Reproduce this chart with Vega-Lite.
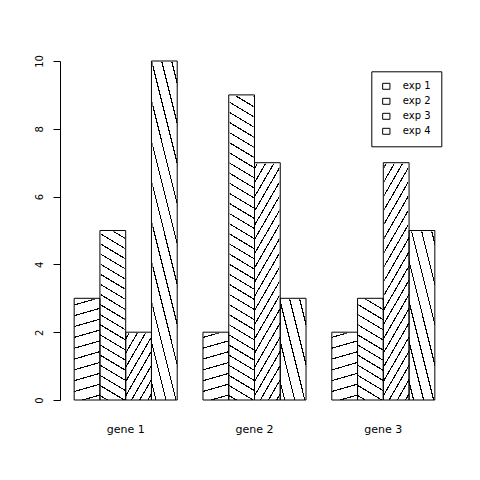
{
  "$schema": "https://vega.github.io/schema/vega-lite/v6.json",
  "width": 389,
  "height": 339,
  "autosize": {"type": "none"},
  "padding": {"left": 60, "top": 61, "right": 31, "bottom": 80},
  "background": "white",
  "config": {"view": {"stroke": null}, "font": "DejaVu Sans"},
  "data": {
    "values": [
      {"gene": "gene 1", "exp": "exp 1", "value": 3},
      {"gene": "gene 1", "exp": "exp 2", "value": 5},
      {"gene": "gene 1", "exp": "exp 3", "value": 2},
      {"gene": "gene 1", "exp": "exp 4", "value": 10},
      {"gene": "gene 2", "exp": "exp 1", "value": 2},
      {"gene": "gene 2", "exp": "exp 2", "value": 9},
      {"gene": "gene 2", "exp": "exp 3", "value": 7},
      {"gene": "gene 2", "exp": "exp 4", "value": 3},
      {"gene": "gene 3", "exp": "exp 1", "value": 2},
      {"gene": "gene 3", "exp": "exp 2", "value": 3},
      {"gene": "gene 3", "exp": "exp 3", "value": 7},
      {"gene": "gene 3", "exp": "exp 4", "value": 5}
    ]
  },
  "encoding": {
    "x": {
      "field": "gene", "type": "nominal", "title": null,
      "scale": {"domain": ["gene 1", "gene 2", "gene 3"], "paddingInner": 0.2, "paddingOuter": 0.11},
      "axis": {"labelAngle": 0, "domain": false, "ticks": false, "tickSize": 0, "labelPadding": 32, "labelBaseline": "alphabetic", "labelFont": "DejaVu Sans", "labelFontSize": 11, "labelColor": "black"}
    },
    "xOffset": {
      "field": "exp", "type": "nominal",
      "scale": {"domain": ["exp 1", "exp 2", "exp 3", "exp 4"], "paddingInner": 0, "paddingOuter": 0}
    }
  },
  "layer": [
    {
      "transform": [{"filter": "datum.exp == 'exp 1'"}],
      "mark": {"type": "bar", "fill": {"gradient": "linear", "x1": 0, "y1": 0, "x2": 0.02225, "y2": 1.02131, "stops": [
        {"offset":0.015,"color":"#fff"},{"offset":0.015,"color":"#000"},{"offset":0.0183,"color":"#000"},{"offset":0.0183,"color":"#fff"},
        {"offset":0.04625,"color":"#fff"},{"offset":0.04625,"color":"#000"},{"offset":0.04955,"color":"#000"},{"offset":0.04955,"color":"#fff"},
        {"offset":0.0775,"color":"#fff"},{"offset":0.0775,"color":"#000"},{"offset":0.0808,"color":"#000"},{"offset":0.0808,"color":"#fff"},
        {"offset":0.10875,"color":"#fff"},{"offset":0.10875,"color":"#000"},{"offset":0.11205,"color":"#000"},{"offset":0.11205,"color":"#fff"},
        {"offset":0.14,"color":"#fff"},{"offset":0.14,"color":"#000"},{"offset":0.1433,"color":"#000"},{"offset":0.1433,"color":"#fff"},
        {"offset":0.17125,"color":"#fff"},{"offset":0.17125,"color":"#000"},{"offset":0.17455,"color":"#000"},{"offset":0.17455,"color":"#fff"},
        {"offset":0.2025,"color":"#fff"},{"offset":0.2025,"color":"#000"},{"offset":0.2058,"color":"#000"},{"offset":0.2058,"color":"#fff"},
        {"offset":0.23375,"color":"#fff"},{"offset":0.23375,"color":"#000"},{"offset":0.23705,"color":"#000"},{"offset":0.23705,"color":"#fff"},
        {"offset":0.265,"color":"#fff"},{"offset":0.265,"color":"#000"},{"offset":0.2683,"color":"#000"},{"offset":0.2683,"color":"#fff"},
        {"offset":0.29625,"color":"#fff"},{"offset":0.29625,"color":"#000"},{"offset":0.29955,"color":"#000"},{"offset":0.29955,"color":"#fff"},
        {"offset":0.3275,"color":"#fff"},{"offset":0.3275,"color":"#000"},{"offset":0.3308,"color":"#000"},{"offset":0.3308,"color":"#fff"},
        {"offset":0.35875,"color":"#fff"},{"offset":0.35875,"color":"#000"},{"offset":0.36205,"color":"#000"},{"offset":0.36205,"color":"#fff"},
        {"offset":0.39,"color":"#fff"},{"offset":0.39,"color":"#000"},{"offset":0.3933,"color":"#000"},{"offset":0.3933,"color":"#fff"},
        {"offset":0.42125,"color":"#fff"},{"offset":0.42125,"color":"#000"},{"offset":0.42455,"color":"#000"},{"offset":0.42455,"color":"#fff"},
        {"offset":0.4525,"color":"#fff"},{"offset":0.4525,"color":"#000"},{"offset":0.4558,"color":"#000"},{"offset":0.4558,"color":"#fff"},
        {"offset":0.48375,"color":"#fff"},{"offset":0.48375,"color":"#000"},{"offset":0.48705,"color":"#000"},{"offset":0.48705,"color":"#fff"},
        {"offset":0.515,"color":"#fff"},{"offset":0.515,"color":"#000"},{"offset":0.5183,"color":"#000"},{"offset":0.5183,"color":"#fff"},
        {"offset":0.54625,"color":"#fff"},{"offset":0.54625,"color":"#000"},{"offset":0.54955,"color":"#000"},{"offset":0.54955,"color":"#fff"},
        {"offset":0.5775,"color":"#fff"},{"offset":0.5775,"color":"#000"},{"offset":0.5808,"color":"#000"},{"offset":0.5808,"color":"#fff"},
        {"offset":0.60875,"color":"#fff"},{"offset":0.60875,"color":"#000"},{"offset":0.61205,"color":"#000"},{"offset":0.61205,"color":"#fff"},
        {"offset":0.64,"color":"#fff"},{"offset":0.64,"color":"#000"},{"offset":0.6433,"color":"#000"},{"offset":0.6433,"color":"#fff"},
        {"offset":0.67125,"color":"#fff"},{"offset":0.67125,"color":"#000"},{"offset":0.67455,"color":"#000"},{"offset":0.67455,"color":"#fff"},
        {"offset":0.7025,"color":"#fff"},{"offset":0.7025,"color":"#000"},{"offset":0.7058,"color":"#000"},{"offset":0.7058,"color":"#fff"},
        {"offset":0.73375,"color":"#fff"},{"offset":0.73375,"color":"#000"},{"offset":0.73705,"color":"#000"},{"offset":0.73705,"color":"#fff"},
        {"offset":0.765,"color":"#fff"},{"offset":0.765,"color":"#000"},{"offset":0.7683,"color":"#000"},{"offset":0.7683,"color":"#fff"},
        {"offset":0.79625,"color":"#fff"},{"offset":0.79625,"color":"#000"},{"offset":0.79955,"color":"#000"},{"offset":0.79955,"color":"#fff"},
        {"offset":0.8275,"color":"#fff"},{"offset":0.8275,"color":"#000"},{"offset":0.8308,"color":"#000"},{"offset":0.8308,"color":"#fff"},
        {"offset":0.85875,"color":"#fff"},{"offset":0.85875,"color":"#000"},{"offset":0.86205,"color":"#000"},{"offset":0.86205,"color":"#fff"},
        {"offset":0.89,"color":"#fff"},{"offset":0.89,"color":"#000"},{"offset":0.8933,"color":"#000"},{"offset":0.8933,"color":"#fff"},
        {"offset":0.92125,"color":"#fff"},{"offset":0.92125,"color":"#000"},{"offset":0.92455,"color":"#000"},{"offset":0.92455,"color":"#fff"},
        {"offset":0.9525,"color":"#fff"},{"offset":0.9525,"color":"#000"},{"offset":0.9558,"color":"#000"},{"offset":0.9558,"color":"#fff"},
        {"offset":0.98375,"color":"#fff"},{"offset":0.98375,"color":"#000"},{"offset":0.98705,"color":"#000"},{"offset":0.98705,"color":"#fff"}
      ]}},
      "encoding": {
        "y": {"datum": 10, "type": "quantitative", "title": null, "scale": {"domain": [0, 10], "nice": false},
          "axis": {"tickCount": 5, "tickSize": 7, "domainColor": "black", "tickColor": "black", "grid": false, "labelAngle": 270, "labelAlign": "center", "labelBaseline": "alphabetic", "labelPadding": 11, "labelFont": "DejaVu Sans", "labelFontSize": 10, "labelColor": "black"}},
        "y2": {"datum": 0}
      }
    },
    {
      "transform": [{"filter": "datum.exp == 'exp 2'"}],
      "mark": {"type": "bar", "fill": {"gradient": "linear", "x1": 1, "y1": 0, "x2": 0.95237, "y2": 1.04346, "stops": [
        {"offset":0.014,"color":"#fff"},{"offset":0.014,"color":"#000"},{"offset":0.0176,"color":"#000"},{"offset":0.0176,"color":"#fff"},
        {"offset":0.0426,"color":"#fff"},{"offset":0.0426,"color":"#000"},{"offset":0.0462,"color":"#000"},{"offset":0.0462,"color":"#fff"},
        {"offset":0.0711,"color":"#fff"},{"offset":0.0711,"color":"#000"},{"offset":0.0747,"color":"#000"},{"offset":0.0747,"color":"#fff"},
        {"offset":0.0997,"color":"#fff"},{"offset":0.0997,"color":"#000"},{"offset":0.1033,"color":"#000"},{"offset":0.1033,"color":"#fff"},
        {"offset":0.1283,"color":"#fff"},{"offset":0.1283,"color":"#000"},{"offset":0.1319,"color":"#000"},{"offset":0.1319,"color":"#fff"},
        {"offset":0.1569,"color":"#fff"},{"offset":0.1569,"color":"#000"},{"offset":0.1605,"color":"#000"},{"offset":0.1605,"color":"#fff"},
        {"offset":0.1854,"color":"#fff"},{"offset":0.1854,"color":"#000"},{"offset":0.189,"color":"#000"},{"offset":0.189,"color":"#fff"},
        {"offset":0.214,"color":"#fff"},{"offset":0.214,"color":"#000"},{"offset":0.2176,"color":"#000"},{"offset":0.2176,"color":"#fff"},
        {"offset":0.2426,"color":"#fff"},{"offset":0.2426,"color":"#000"},{"offset":0.2462,"color":"#000"},{"offset":0.2462,"color":"#fff"},
        {"offset":0.2711,"color":"#fff"},{"offset":0.2711,"color":"#000"},{"offset":0.2747,"color":"#000"},{"offset":0.2747,"color":"#fff"},
        {"offset":0.2997,"color":"#fff"},{"offset":0.2997,"color":"#000"},{"offset":0.3033,"color":"#000"},{"offset":0.3033,"color":"#fff"},
        {"offset":0.3283,"color":"#fff"},{"offset":0.3283,"color":"#000"},{"offset":0.3319,"color":"#000"},{"offset":0.3319,"color":"#fff"},
        {"offset":0.3569,"color":"#fff"},{"offset":0.3569,"color":"#000"},{"offset":0.3605,"color":"#000"},{"offset":0.3605,"color":"#fff"},
        {"offset":0.3854,"color":"#fff"},{"offset":0.3854,"color":"#000"},{"offset":0.389,"color":"#000"},{"offset":0.389,"color":"#fff"},
        {"offset":0.414,"color":"#fff"},{"offset":0.414,"color":"#000"},{"offset":0.4176,"color":"#000"},{"offset":0.4176,"color":"#fff"},
        {"offset":0.4426,"color":"#fff"},{"offset":0.4426,"color":"#000"},{"offset":0.4462,"color":"#000"},{"offset":0.4462,"color":"#fff"},
        {"offset":0.4711,"color":"#fff"},{"offset":0.4711,"color":"#000"},{"offset":0.4747,"color":"#000"},{"offset":0.4747,"color":"#fff"},
        {"offset":0.4997,"color":"#fff"},{"offset":0.4997,"color":"#000"},{"offset":0.5033,"color":"#000"},{"offset":0.5033,"color":"#fff"},
        {"offset":0.5283,"color":"#fff"},{"offset":0.5283,"color":"#000"},{"offset":0.5319,"color":"#000"},{"offset":0.5319,"color":"#fff"},
        {"offset":0.5569,"color":"#fff"},{"offset":0.5569,"color":"#000"},{"offset":0.5605,"color":"#000"},{"offset":0.5605,"color":"#fff"},
        {"offset":0.5854,"color":"#fff"},{"offset":0.5854,"color":"#000"},{"offset":0.589,"color":"#000"},{"offset":0.589,"color":"#fff"},
        {"offset":0.614,"color":"#fff"},{"offset":0.614,"color":"#000"},{"offset":0.6176,"color":"#000"},{"offset":0.6176,"color":"#fff"},
        {"offset":0.6426,"color":"#fff"},{"offset":0.6426,"color":"#000"},{"offset":0.6462,"color":"#000"},{"offset":0.6462,"color":"#fff"},
        {"offset":0.6711,"color":"#fff"},{"offset":0.6711,"color":"#000"},{"offset":0.6747,"color":"#000"},{"offset":0.6747,"color":"#fff"},
        {"offset":0.6997,"color":"#fff"},{"offset":0.6997,"color":"#000"},{"offset":0.7033,"color":"#000"},{"offset":0.7033,"color":"#fff"},
        {"offset":0.7283,"color":"#fff"},{"offset":0.7283,"color":"#000"},{"offset":0.7319,"color":"#000"},{"offset":0.7319,"color":"#fff"},
        {"offset":0.7569,"color":"#fff"},{"offset":0.7569,"color":"#000"},{"offset":0.7605,"color":"#000"},{"offset":0.7605,"color":"#fff"},
        {"offset":0.7854,"color":"#fff"},{"offset":0.7854,"color":"#000"},{"offset":0.789,"color":"#000"},{"offset":0.789,"color":"#fff"},
        {"offset":0.814,"color":"#fff"},{"offset":0.814,"color":"#000"},{"offset":0.8176,"color":"#000"},{"offset":0.8176,"color":"#fff"},
        {"offset":0.8426,"color":"#fff"},{"offset":0.8426,"color":"#000"},{"offset":0.8462,"color":"#000"},{"offset":0.8462,"color":"#fff"},
        {"offset":0.8711,"color":"#fff"},{"offset":0.8711,"color":"#000"},{"offset":0.8747,"color":"#000"},{"offset":0.8747,"color":"#fff"},
        {"offset":0.8997,"color":"#fff"},{"offset":0.8997,"color":"#000"},{"offset":0.9033,"color":"#000"},{"offset":0.9033,"color":"#fff"},
        {"offset":0.9283,"color":"#fff"},{"offset":0.9283,"color":"#000"},{"offset":0.9319,"color":"#000"},{"offset":0.9319,"color":"#fff"},
        {"offset":0.9569,"color":"#fff"},{"offset":0.9569,"color":"#000"},{"offset":0.9605,"color":"#000"},{"offset":0.9605,"color":"#fff"},
        {"offset":0.9854,"color":"#fff"},{"offset":0.9854,"color":"#000"},{"offset":0.989,"color":"#000"},{"offset":0.989,"color":"#fff"}
      ]}},
      "encoding": {
        "y": {"datum": 10, "type": "quantitative", "title": null, "scale": {"domain": [0, 10], "nice": false},
          "axis": {"tickCount": 5, "tickSize": 7, "domainColor": "black", "tickColor": "black", "grid": false, "labelAngle": 270, "labelAlign": "center", "labelBaseline": "alphabetic", "labelPadding": 11, "labelFont": "DejaVu Sans", "labelFontSize": 10, "labelColor": "black"}},
        "y2": {"datum": 0}
      }
    },
    {
      "transform": [{"filter": "datum.exp == 'exp 3'"}],
      "mark": {"type": "bar", "fill": {"gradient": "linear", "x1": 0, "y1": 0, "x2": 0.14641, "y2": 1.11236, "stops": [
        {"offset":0.018,"color":"#fff"},{"offset":0.018,"color":"#000"},{"offset":0.0237,"color":"#000"},{"offset":0.0237,"color":"#fff"},
        {"offset":0.055,"color":"#fff"},{"offset":0.055,"color":"#000"},{"offset":0.0607,"color":"#000"},{"offset":0.0607,"color":"#fff"},
        {"offset":0.0921,"color":"#fff"},{"offset":0.0921,"color":"#000"},{"offset":0.0978,"color":"#000"},{"offset":0.0978,"color":"#fff"},
        {"offset":0.1291,"color":"#fff"},{"offset":0.1291,"color":"#000"},{"offset":0.1348,"color":"#000"},{"offset":0.1348,"color":"#fff"},
        {"offset":0.1661,"color":"#fff"},{"offset":0.1661,"color":"#000"},{"offset":0.1718,"color":"#000"},{"offset":0.1718,"color":"#fff"},
        {"offset":0.2032,"color":"#fff"},{"offset":0.2032,"color":"#000"},{"offset":0.2089,"color":"#000"},{"offset":0.2089,"color":"#fff"},
        {"offset":0.2402,"color":"#fff"},{"offset":0.2402,"color":"#000"},{"offset":0.2459,"color":"#000"},{"offset":0.2459,"color":"#fff"},
        {"offset":0.2773,"color":"#fff"},{"offset":0.2773,"color":"#000"},{"offset":0.283,"color":"#000"},{"offset":0.283,"color":"#fff"},
        {"offset":0.3143,"color":"#fff"},{"offset":0.3143,"color":"#000"},{"offset":0.32,"color":"#000"},{"offset":0.32,"color":"#fff"},
        {"offset":0.3513,"color":"#fff"},{"offset":0.3513,"color":"#000"},{"offset":0.357,"color":"#000"},{"offset":0.357,"color":"#fff"},
        {"offset":0.3884,"color":"#fff"},{"offset":0.3884,"color":"#000"},{"offset":0.3941,"color":"#000"},{"offset":0.3941,"color":"#fff"},
        {"offset":0.4254,"color":"#fff"},{"offset":0.4254,"color":"#000"},{"offset":0.4311,"color":"#000"},{"offset":0.4311,"color":"#fff"},
        {"offset":0.4624,"color":"#fff"},{"offset":0.4624,"color":"#000"},{"offset":0.4681,"color":"#000"},{"offset":0.4681,"color":"#fff"},
        {"offset":0.4995,"color":"#fff"},{"offset":0.4995,"color":"#000"},{"offset":0.5052,"color":"#000"},{"offset":0.5052,"color":"#fff"},
        {"offset":0.5365,"color":"#fff"},{"offset":0.5365,"color":"#000"},{"offset":0.5422,"color":"#000"},{"offset":0.5422,"color":"#fff"},
        {"offset":0.5736,"color":"#fff"},{"offset":0.5736,"color":"#000"},{"offset":0.5793,"color":"#000"},{"offset":0.5793,"color":"#fff"},
        {"offset":0.6106,"color":"#fff"},{"offset":0.6106,"color":"#000"},{"offset":0.6163,"color":"#000"},{"offset":0.6163,"color":"#fff"},
        {"offset":0.6476,"color":"#fff"},{"offset":0.6476,"color":"#000"},{"offset":0.6533,"color":"#000"},{"offset":0.6533,"color":"#fff"},
        {"offset":0.6847,"color":"#fff"},{"offset":0.6847,"color":"#000"},{"offset":0.6904,"color":"#000"},{"offset":0.6904,"color":"#fff"},
        {"offset":0.7217,"color":"#fff"},{"offset":0.7217,"color":"#000"},{"offset":0.7274,"color":"#000"},{"offset":0.7274,"color":"#fff"},
        {"offset":0.7587,"color":"#fff"},{"offset":0.7587,"color":"#000"},{"offset":0.7644,"color":"#000"},{"offset":0.7644,"color":"#fff"},
        {"offset":0.7958,"color":"#fff"},{"offset":0.7958,"color":"#000"},{"offset":0.8015,"color":"#000"},{"offset":0.8015,"color":"#fff"},
        {"offset":0.8328,"color":"#fff"},{"offset":0.8328,"color":"#000"},{"offset":0.8385,"color":"#000"},{"offset":0.8385,"color":"#fff"},
        {"offset":0.8699,"color":"#fff"},{"offset":0.8699,"color":"#000"},{"offset":0.8756,"color":"#000"},{"offset":0.8756,"color":"#fff"},
        {"offset":0.9069,"color":"#fff"},{"offset":0.9069,"color":"#000"},{"offset":0.9126,"color":"#000"},{"offset":0.9126,"color":"#fff"},
        {"offset":0.9439,"color":"#fff"},{"offset":0.9439,"color":"#000"},{"offset":0.9496,"color":"#000"},{"offset":0.9496,"color":"#fff"},
        {"offset":0.981,"color":"#fff"},{"offset":0.981,"color":"#000"},{"offset":0.9867,"color":"#000"},{"offset":0.9867,"color":"#fff"}
      ]}},
      "encoding": {
        "y": {"datum": 10, "type": "quantitative", "title": null, "scale": {"domain": [0, 10], "nice": false},
          "axis": {"tickCount": 5, "tickSize": 7, "domainColor": "black", "tickColor": "black", "grid": false, "labelAngle": 270, "labelAlign": "center", "labelBaseline": "alphabetic", "labelPadding": 11, "labelFont": "DejaVu Sans", "labelFontSize": 10, "labelColor": "black"}},
        "y2": {"datum": 0}
      }
    },
    {
      "transform": [{"filter": "datum.exp == 'exp 4'"}],
      "mark": {"type": "bar", "fill": {"gradient": "linear", "x1": 1, "y1": 0, "x2": 0.63607, "y2": 1.19392, "stops": [
        {"offset":0.045,"color":"#fff"},{"offset":0.045,"color":"#000"},{"offset":0.0553,"color":"#000"},{"offset":0.0553,"color":"#fff"},
        {"offset":0.1359,"color":"#fff"},{"offset":0.1359,"color":"#000"},{"offset":0.1462,"color":"#000"},{"offset":0.1462,"color":"#fff"},
        {"offset":0.2268,"color":"#fff"},{"offset":0.2268,"color":"#000"},{"offset":0.2371,"color":"#000"},{"offset":0.2371,"color":"#fff"},
        {"offset":0.3177,"color":"#fff"},{"offset":0.3177,"color":"#000"},{"offset":0.328,"color":"#000"},{"offset":0.328,"color":"#fff"},
        {"offset":0.4086,"color":"#fff"},{"offset":0.4086,"color":"#000"},{"offset":0.4189,"color":"#000"},{"offset":0.4189,"color":"#fff"},
        {"offset":0.4995,"color":"#fff"},{"offset":0.4995,"color":"#000"},{"offset":0.5098,"color":"#000"},{"offset":0.5098,"color":"#fff"},
        {"offset":0.5905,"color":"#fff"},{"offset":0.5905,"color":"#000"},{"offset":0.6008,"color":"#000"},{"offset":0.6008,"color":"#fff"},
        {"offset":0.6814,"color":"#fff"},{"offset":0.6814,"color":"#000"},{"offset":0.6917,"color":"#000"},{"offset":0.6917,"color":"#fff"},
        {"offset":0.7723,"color":"#fff"},{"offset":0.7723,"color":"#000"},{"offset":0.7826,"color":"#000"},{"offset":0.7826,"color":"#fff"},
        {"offset":0.8632,"color":"#fff"},{"offset":0.8632,"color":"#000"},{"offset":0.8735,"color":"#000"},{"offset":0.8735,"color":"#fff"},
        {"offset":0.9541,"color":"#fff"},{"offset":0.9541,"color":"#000"},{"offset":0.9644,"color":"#000"},{"offset":0.9644,"color":"#fff"}
      ]}},
      "encoding": {
        "y": {"datum": 10, "type": "quantitative", "title": null, "scale": {"domain": [0, 10], "nice": false},
          "axis": {"tickCount": 5, "tickSize": 7, "domainColor": "black", "tickColor": "black", "grid": false, "labelAngle": 270, "labelAlign": "center", "labelBaseline": "alphabetic", "labelPadding": 11, "labelFont": "DejaVu Sans", "labelFontSize": 10, "labelColor": "black"}},
        "y2": {"datum": 0}
      }
    },
    {
      "mark": {"type": "bar", "stroke": "white", "strokeWidth": 2},
      "encoding": {
        "y": {"field": "value", "type": "quantitative", "title": null, "scale": {"domain": [0, 10], "nice": false},
          "axis": {"tickCount": 5, "tickSize": 7, "domainColor": "black", "tickColor": "black", "grid": false, "labelAngle": 270, "labelAlign": "center", "labelBaseline": "alphabetic", "labelPadding": 11, "labelFont": "DejaVu Sans", "labelFontSize": 10, "labelColor": "black"}},
        "y2": {"datum": 10},
        "fill": {
          "field": "exp", "type": "nominal",
          "scale": {"domain": ["exp 1", "exp 2", "exp 3", "exp 4"], "range": ["white", "white", "white", "white"]},
          "legend": {
            "title": null, "orient": "none", "legendX": 311.3, "legendY": 10.3,
            "symbolType": "M-1,-0.82L1,-0.82L1,0.82L-1,0.82Z", "symbolSize": 53,
            "symbolStrokeColor": "black", "symbolStrokeWidth": 1, "symbolFillColor": "white",
            "labelFont": "DejaVu Sans", "labelFontSize": 10, "labelColor": "black", "labelOffset": 11.5,
            "rowPadding": 5, "padding": 10, "strokeColor": "black", "fillColor": "white", "cornerRadius": 0,
            "encode": {"symbols": {"update": {"stroke": {"value": "black"}, "strokeWidth": {"value": 1}, "fill": {"value": "white"}}}}
          }
        }
      }
    },
    {
      "mark": {"type": "bar", "filled": false, "color": "black", "strokeWidth": 1},
      "encoding": {
        "y": {"field": "value", "type": "quantitative", "title": null, "scale": {"domain": [0, 10], "nice": false},
          "axis": {"tickCount": 5, "tickSize": 7, "domainColor": "black", "tickColor": "black", "grid": false, "labelAngle": 270, "labelAlign": "center", "labelBaseline": "alphabetic", "labelPadding": 11, "labelFont": "DejaVu Sans", "labelFontSize": 10, "labelColor": "black"}}
      }
    }
  ]
}
